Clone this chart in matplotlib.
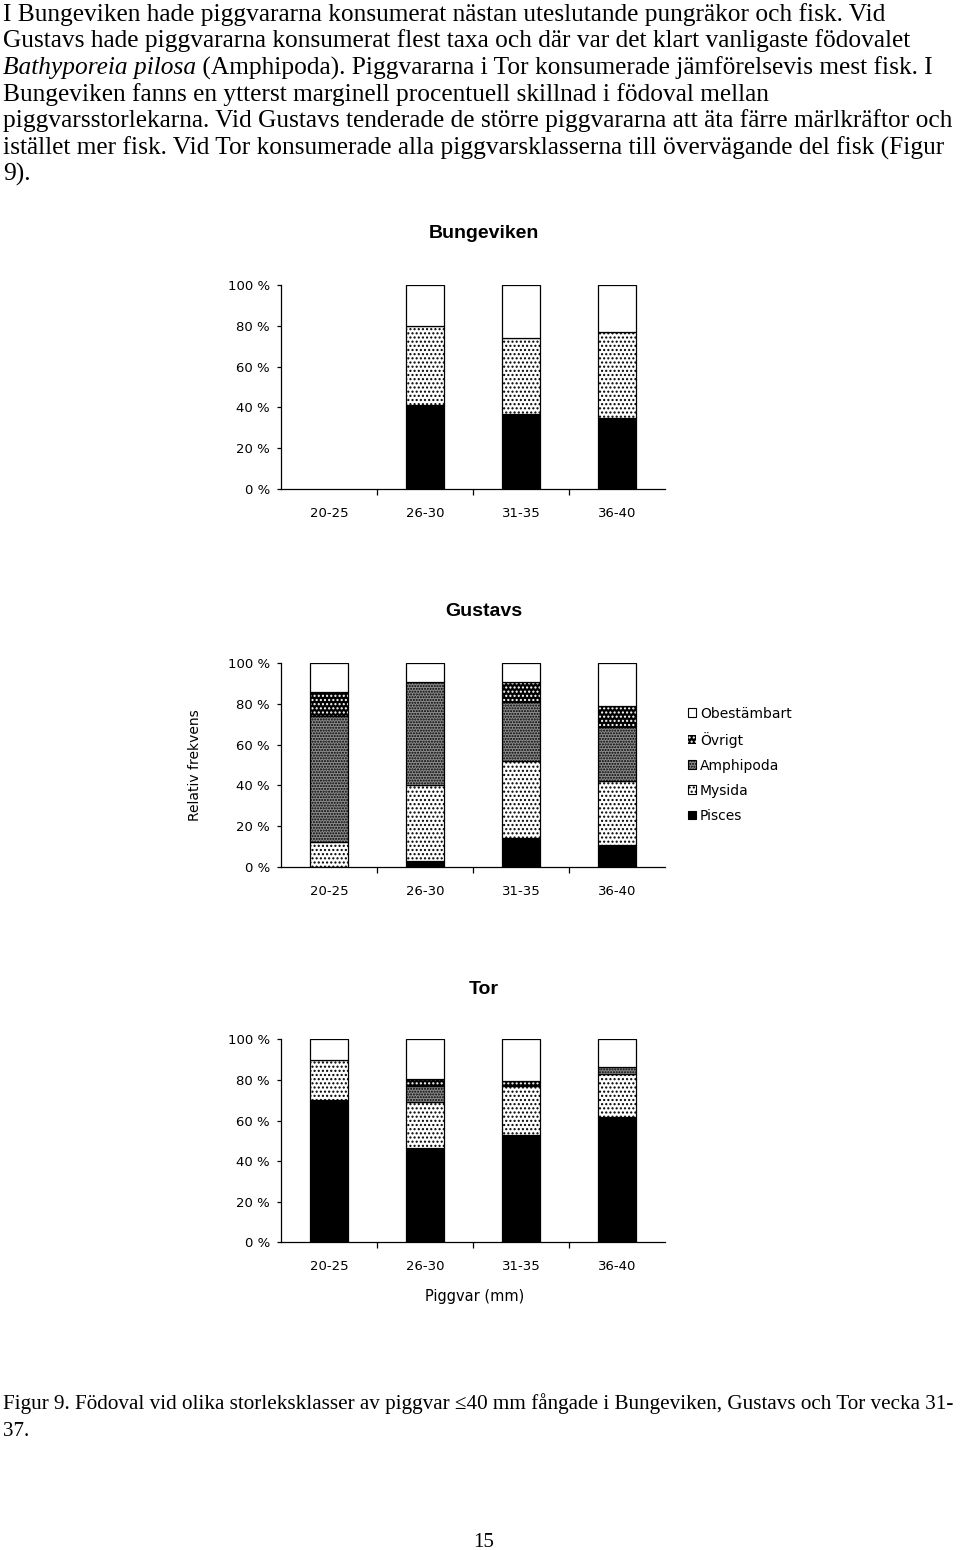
import numpy as np
import matplotlib
matplotlib.use("Agg")
import matplotlib.pyplot as plt
from matplotlib.patches import Patch

# ---- data (percent of diet, stacked bottom -> top) ----
categories = ["20-25", "26-30", "31-35", "36-40"]
yticks = [0, 20, 40, 60, 80, 100]
ytick_labels = ["0 %", "20 %", "40 %", "60 %", "80 %", "100 %"]
series_names = ["Pisces", "Mysida", "Amphipoda", "Övrigt", "Obestämbart"]

bunge_pisces = [0, 41, 37, 35]
bunge_mysida = [0, 39, 37, 42]
bunge_amphipoda = [0, 0, 0, 0]
bunge_ovrigt = [0, 0, 0, 0]
bunge_obest = [0, 20, 26, 23]

gustavs_pisces = [0, 3, 14, 10.5]
gustavs_mysida = [12, 37, 38, 31.5]
gustavs_amphipoda = [62, 51, 29, 26.5]
gustavs_ovrigt = [12, 0, 10, 10.5]
gustavs_obest = [14, 9, 9, 21]

tor_pisces = [70, 46.5, 53, 61.5]
tor_mysida = [20, 22.5, 24, 21.5]
tor_amphipoda = [0, 8, 0, 3.5]
tor_ovrigt = [0, 3.5, 2.5, 0]
tor_obest = [10, 19.5, 20.5, 13.5]

body_lines = [
    "I Bungeviken hade piggvararna konsumerat nästan uteslutande pungräkor och fisk. Vid",
    "Gustavs hade piggvararna konsumerat flest taxa och där var det klart vanligaste födovalet",
    None,  # italic line, handled below
    "Bungeviken fanns en ytterst marginell procentuell skillnad i födoval mellan",
    "piggvarsstorlekarna. Vid Gustavs tenderade de större piggvararna att äta färre märlkräftor och",
    "istället mer fisk. Vid Tor konsumerade alla piggvarsklasserna till övervägande del fisk (Figur",
    "9).",
]
line3_italic = "Bathyporeia pilosa"
line3_rest = " (Amphipoda). Piggvararna i Tor konsumerade jämförelsevis mest fisk. I"
caption_lines = [
    "Figur 9. Födoval vid olika storleksklasser av piggvar ≤40 mm fångade i Bungeviken, Gustavs och Tor vecka 31-",
    "37.",
]

# face colour, hatch, hatch colour
styles = {
    "Pisces": ("black", None, "black"),
    "Mysida": ("white", "....", "black"),
    "Amphipoda": ("#8c8c8c", "......", "black"),
    "Övrigt": ("black", "....", "white"),
    "Obestämbart": ("white", None, "black"),
}

W, H = 960, 1550
fig = plt.figure(figsize=(W / 100, H / 100), dpi=100)
renderer = fig.canvas.get_renderer()
serif = "Liberation Serif"
chart_font = "DejaVu Sans"


def fy(y):
    return 1 - y / H


def fitted_size(text, family, target_px, style="normal"):
    t = fig.text(0, 0, text, family=family, fontsize=20, style=style)
    w = t.get_window_extent(renderer).width
    t.remove()
    return 20 * target_px / w


# ---- body text ----
body_size = fitted_size(body_lines[0], serif, 886)
for i, line in enumerate(body_lines):
    yb = 20.7 + 26.7 * i
    if line is None:
        t = fig.text(3 / W, fy(yb), line3_italic, family=serif, style="italic",
                     fontsize=body_size, va="baseline")
        w = t.get_window_extent(renderer).width
        fig.text((3 + w) / W, fy(yb), line3_rest, family=serif,
                 fontsize=body_size, va="baseline")
    else:
        fig.text(3 / W, fy(yb), line, family=serif, fontsize=body_size, va="baseline")

cap_size = fitted_size(caption_lines[0], serif, 952)
for i, line in enumerate(caption_lines):
    fig.text(3 / W, fy(1409.5 + 26 * i), line, family=serif, fontsize=cap_size, va="baseline")

fig.text(484 / W, fy(1547), "15", family=serif, fontsize=15, ha="center", va="baseline")


# ---- charts ----
def draw_chart(y0, y100, title, title_y, data):
    ax = fig.add_axes([281 / W, fy(y0), 384 / W, (y0 - y100) / H])
    x = np.arange(len(categories))
    bottom = np.zeros(len(categories))
    for name, vals in zip(series_names, data):
        face, hatch, hc = styles[name]
        vals = np.array(vals, float)
        ax.bar(x, vals, 0.4, bottom=bottom, color=face, edgecolor=hc,
               hatch=hatch, linewidth=0)
        ax.bar(x, vals, 0.4, bottom=bottom, fill=False,
               edgecolor=["black" if v > 0 else "none" for v in vals], linewidth=0.9)
        bottom += vals
    ax.set_xlim(-0.5, len(categories) - 0.5)
    ax.set_ylim(0, 100)
    ax.spines[["top", "right"]].set_visible(False)
    ax.spines[["left", "bottom"]].set_linewidth(0.9)
    ax.set_yticks(yticks)
    ax.set_yticklabels(ytick_labels, family=chart_font, fontsize=9.5)
    ax.set_xticks(x)
    ax.set_xticklabels(categories, family=chart_font, fontsize=9.5)
    ax.set_xticks(x[:-1] + 0.5, minor=True)
    ax.tick_params(axis="y", direction="out", length=3, width=0.9, pad=5)
    ax.tick_params(axis="x", which="major", length=0, pad=13)
    ax.tick_params(axis="x", which="minor", direction="out", length=4, width=0.9)
    fig.text(484 / W, fy(title_y), title, family="Liberation Sans", weight="bold",
             fontsize=14, ha="center", va="center")
    return ax


draw_chart(489, 285, "Bungeviken", 234,
           [bunge_pisces, bunge_mysida, bunge_amphipoda, bunge_ovrigt, bunge_obest])
ax_g = draw_chart(866.7, 663.3, "Gustavs", 611,
                  [gustavs_pisces, gustavs_mysida, gustavs_amphipoda, gustavs_ovrigt, gustavs_obest])
draw_chart(1242.3, 1039.3, "Tor", 989,
           [tor_pisces, tor_mysida, tor_amphipoda, tor_ovrigt, tor_obest])

fig.text(195 / W, fy(765), "Relativ frekvens", family=chart_font, fontsize=10,
         rotation=90, ha="center", va="center")
fig.text(475 / W, fy(1296), "Piggvar (mm)", family=chart_font, fontsize=10.5,
         ha="center", va="center")

# legend, top entry first
handles = []
for name in series_names[::-1]:
    face, hatch, hc = styles[name]
    if name == "Övrigt":
        handles.append(Patch(facecolor=face, edgecolor=hc, hatch=hatch, linewidth=0))
    else:
        handles.append(Patch(facecolor=face, edgecolor="black", hatch=hatch, linewidth=0.8))
fig.legend(handles, series_names[::-1], loc="upper left",
           bbox_to_anchor=(675 / W, fy(694)), frameon=False,
           prop={"family": chart_font, "size": 10},
           handlelength=0.6, handleheight=0.6, handletextpad=0.3, labelspacing=0.8)

fig.savefig("out.png", dpi=100)
